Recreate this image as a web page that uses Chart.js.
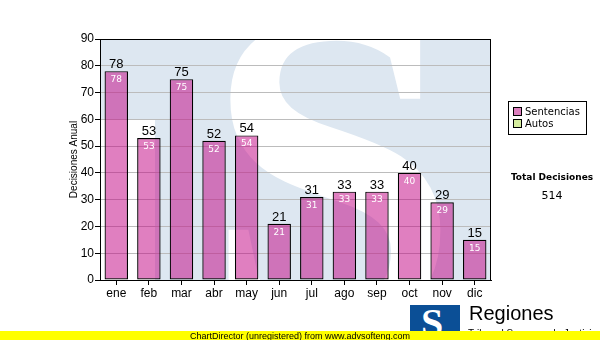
<!DOCTYPE html>
<html>
<head>
<meta charset="utf-8">
<script src="https://cdn.jsdelivr.net/npm/chart.js@4/dist/chart.umd.min.js"></script>
<style>
  body { margin: 0; background: #fff; }
  #wrap { position: relative; width: 600px; height: 340px; overflow: hidden; font-family: "DejaVu Sans", sans-serif; }
  canvas { position: absolute; left: 0; top: 0; }
  .legend { position: absolute; left: 508px; top: 101px; width: 77px; height: 32px; border: 1px solid #000; font-size: 10px; }
  .legend div { position: absolute; left: 4px; height: 12px; line-height: 12px; white-space: nowrap; }
  .legend span { display: inline-block; width: 7px; height: 7px; border: 1px solid #000; margin-right: 3px; vertical-align: -1px; }
  .total { position: absolute; left: 500px; width: 104px; text-align: center; font-size: 9px; }
  .logo { position: absolute; left: 410px; top: 305px; width: 50px; height: 30px; background: #0b4f96; overflow: hidden; }
  .logo b { position: absolute; left: 11px; top: -6px; color: #fff; font: bold 40px "Liberation Serif", serif; }
  .regiones { position: absolute; left: 469px; top: 302px; font: 20px "Liberation Sans", sans-serif; color: #000; }
  .sub { position: absolute; left: 468px; top: 328px; font: 10px "Liberation Sans", sans-serif; white-space: nowrap; }
  .footer { position: absolute; left: 0; top: 331px; width: 600px; height: 9px; background: #ffff00; font: 9px "Liberation Sans", sans-serif; line-height: 10px; text-align: center; color: #000; }
</style>
</head>
<body>
<div id="wrap">
  <canvas id="chart" width="600" height="340"></canvas>
  <div class="legend">
    <div style="top:4px"><span style="background:#dd7fbf"></span>Sentencias</div>
    <div style="top:16px"><span style="background:#d6ee9f"></span>Autos</div>
  </div>
  <div class="total" style="top:172px;font-weight:bold">Total Decisiones</div>
  <div class="total" id="total" style="top:189px;font-size:11px"></div>
  <div class="logo"><b>S</b></div>
  <div class="regiones">Regiones</div>
  <div class="sub">Tribunal Supremo de Justicia</div>
  <div class="footer">ChartDirector (unregistered) from www.advsofteng.com</div>
</div>
<script>
// datos
const meses = ["ene", "feb", "mar", "abr", "may", "jun", "jul", "ago", "sep", "oct", "nov", "dic"];
const sentencias = [78, 53, 75, 52, 54, 21, 31, 33, 33, 40, 29, 15];
const autos = [0, 0, 0, 0, 0, 0, 0, 0, 0, 0, 0, 0];
const yMax = 90;
const yStep = 10;

const total = sentencias.reduce((a, b) => a + b, 0) + autos.reduce((a, b) => a + b, 0);
document.getElementById("total").textContent = total;

// fondo con la "S" de marca de agua
const fondo = {
  id: "fondo",
  beforeDraw(chart) {
    const { ctx, chartArea: a } = chart;
    ctx.save();
    ctx.beginPath();
    ctx.rect(a.left, a.top, a.right - a.left, a.bottom - a.top);
    ctx.clip();
    ctx.fillStyle = "#dde7f1";
    ctx.fillRect(a.left, a.top, a.right - a.left, a.bottom - a.top);
    ctx.fillStyle = "#ffffff";
    ctx.fillRect(a.left, 120, 55, a.bottom - 120);
    ctx.font = "bold 460px 'Liberation Serif'";
    ctx.textAlign = "center";
    ctx.fillText("S", 332, 322);
    ctx.restore();
  },
  afterDraw(chart) {
    const { ctx, chartArea: a } = chart;
    ctx.save();
    ctx.strokeStyle = "#000";
    ctx.lineWidth = 1;
    ctx.strokeRect(a.left + 0.5, a.top + 0.5, a.right - a.left - 1, a.bottom - a.top);
    ctx.restore();
  }
};

// etiquetas de valores
const etiquetas = {
  id: "etiquetas",
  afterDatasetsDraw(chart) {
    const { ctx } = chart;
    const meta = chart.getDatasetMeta(0);
    ctx.save();
    ctx.textAlign = "center";
    meta.data.forEach((bar, i) => {
      const v = sentencias[i];
      ctx.fillStyle = "#000";
      ctx.font = "13px 'Liberation Sans'";
      ctx.textBaseline = "bottom";
      ctx.fillText(v, bar.x, bar.y);
      ctx.fillStyle = "#fff";
      ctx.font = "9px 'DejaVu Sans'";
      ctx.textBaseline = "top";
      ctx.fillText(v, bar.x, bar.y + 4);
    });
    ctx.restore();
  }
};

new Chart(document.getElementById("chart"), {
  type: "bar",
  data: {
    labels: meses,
    datasets: [
      {
        label: "Sentencias",
        data: sentencias,
        backgroundColor: "rgba(193, 0, 129, 0.5)",
        borderColor: "#000",
        borderWidth: 1.2,
        borderSkipped: false,
        barPercentage: 0.72,
        categoryPercentage: 1,
      },
      {
        label: "Autos",
        data: autos,
        backgroundColor: "rgba(214, 238, 159, 1)",
        borderWidth: 0,
        barPercentage: 0.72,
        categoryPercentage: 1,
      },
    ],
  },
  options: {
    responsive: false,
    animation: false,
    layout: { padding: { left: 64, right: 109, top: 39, bottom: 0 } },
    plugins: { legend: { display: false }, tooltip: { enabled: false } },
    scales: {
      x: {
        stacked: true,
        afterFit: (s) => { s.height = 60; },
        grid: { display: true, drawOnChartArea: false, offset: false, tickLength: 5, tickColor: "#000" },
        border: { color: "#000" },
        ticks: { color: "#000", font: { family: "Liberation Sans", size: 12 }, padding: 1 },
      },
      y: {
        stacked: true,
        min: 0,
        max: yMax,
        afterFit: (s) => { s.width = 36; },
        grid: { color: "#bcbcbc", tickLength: 5, tickColor: "#000" },
        border: { color: "#000" },
        ticks: { stepSize: yStep, color: "#000", font: { family: "Liberation Sans", size: 12 }, padding: 1 },
        title: { display: true, text: "Decisiones Anual", color: "#000", font: { family: "Liberation Sans", size: 10 }, padding: { top: 4, bottom: 4 } },
      },
    },
  },
  plugins: [fondo, etiquetas],
});
</script>
</body>
</html>
